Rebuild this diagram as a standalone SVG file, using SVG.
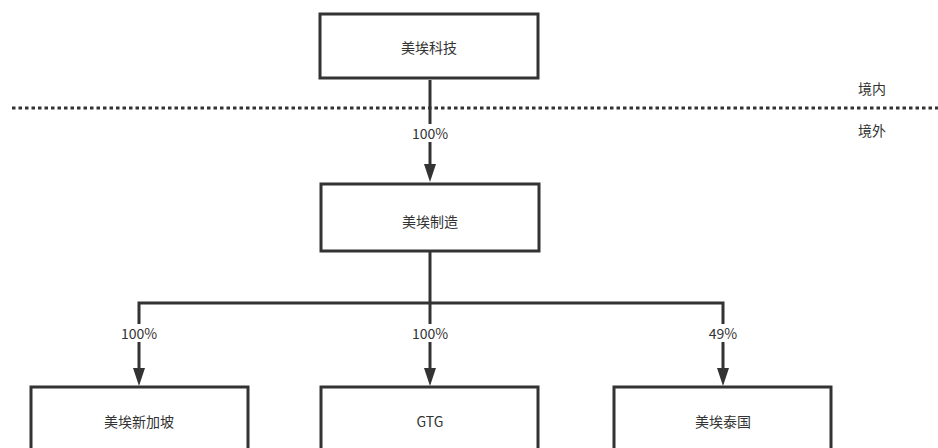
<svg xmlns="http://www.w3.org/2000/svg" width="938" height="448" viewBox="0 0 938 448">
<defs>
<style>
.box{fill:#fff;stroke:#333;stroke-width:3}
.t{font-family:"Noto Sans CJK SC","Noto Sans",sans-serif;font-size:14px;fill:#333;text-anchor:middle;dominant-baseline:central}
.ln{fill:none;stroke:#333;stroke-width:3}
.lbg{fill:#fff}
.ah{fill:#333}
</style>
</defs>
<rect width="938" height="448" fill="#fff"/>
<line x1="12" y1="108" x2="938" y2="108" stroke="#333" stroke-width="3" stroke-dasharray="3.5 3"/>
<text class="t" x="872" y="88">境内</text>
<text class="t" x="872" y="130">境外</text>
<g id="connectors">
<path class="ln" d="M430,80 V164"/>
<path class="ah" d="M424,164 L436,164 L430,182 Z"/>
<path class="ln" d="M430,252 V303"/>
<path class="ln" d="M139,368 V303 H723 V368"/>
<path class="ln" d="M430,303 V368"/>
<path class="ah" d="M133,368 L145,368 L139,386 Z"/>
<path class="ah" d="M424,368 L436,368 L430,386 Z"/>
<path class="ah" d="M717,368 L729,368 L723,386 Z"/>
<rect class="lbg" x="408" y="124" width="44" height="18"/>
<text class="t" x="430" y="133">100%</text>
<rect class="lbg" x="117" y="324" width="44" height="18"/>
<text class="t" x="139" y="333">100%</text>
<rect class="lbg" x="408" y="324" width="44" height="18"/>
<text class="t" x="430" y="333">100%</text>
<rect class="lbg" x="705" y="324" width="36" height="18"/>
<text class="t" x="723" y="333">49%</text>
</g>
<g id="n1"><rect class="box" x="320" y="14" width="218" height="64"/><text class="t" x="429" y="47">美埃科技</text></g>
<g id="n2"><rect class="box" x="321" y="184" width="218" height="67"/><text class="t" x="430" y="221">美埃制造</text></g>
<g id="n3"><rect class="box" x="31" y="387" width="217" height="80"/><text class="t" x="139" y="421">美埃新加坡</text></g>
<g id="n4"><rect class="box" x="321" y="387" width="217" height="80"/><text class="t" x="430" y="421">GTG</text></g>
<g id="n5"><rect class="box" x="614" y="387" width="217" height="80"/><text class="t" x="723" y="421">美埃泰国</text></g>
</svg>
